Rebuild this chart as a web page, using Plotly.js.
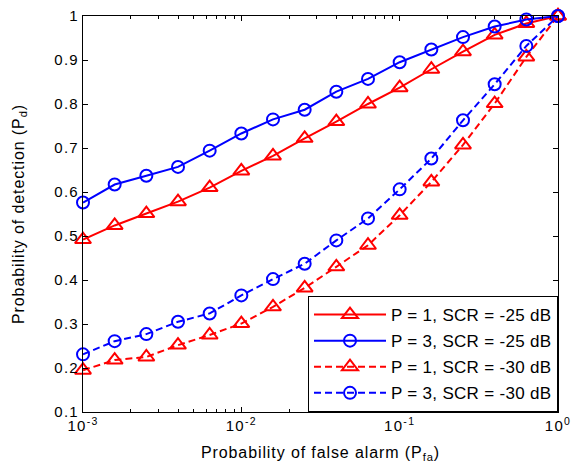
<!DOCTYPE html>
<html><head><meta charset="utf-8">
<script src="https://cdn.plot.ly/plotly-3.0.1.min.js"></script>
<style>
body{margin:0;background:#fff}#c{width:576px;height:471px}
.xtick text,.ytick text{letter-spacing:1.3px}
.xtitle,.ytitle{letter-spacing:0.9px}
.legendtext{letter-spacing:0.3px}
</style>
</head><body><div id="c"></div>
<script>
// Pfa = 10^(-3 + 0.2k), k = 0..15
const pfa = [0.001, 0.001585, 0.002512, 0.003981, 0.00631, 0.01, 0.01585, 0.02512, 0.03981, 0.0631, 0.1, 0.1585, 0.2512, 0.3981, 0.631, 1.0];
const pd_p1_25 = [0.492, 0.524, 0.551, 0.578, 0.610, 0.648, 0.682, 0.722, 0.760, 0.800, 0.837, 0.879, 0.919, 0.957, 0.983, 1.0];
const pd_p3_25 = [0.576, 0.617, 0.637, 0.657, 0.694, 0.733, 0.765, 0.787, 0.828, 0.857, 0.895, 0.924, 0.952, 0.976, 0.992, 1.0];
const pd_p1_30 = [0.195, 0.218, 0.225, 0.252, 0.275, 0.301, 0.339, 0.382, 0.430, 0.479, 0.547, 0.623, 0.707, 0.801, 0.907, 1.0];
const pd_p3_30 = [0.231, 0.261, 0.277, 0.305, 0.324, 0.365, 0.402, 0.437, 0.490, 0.540, 0.606, 0.676, 0.763, 0.845, 0.932, 1.0];
const names = ['P = 1, SCR = -25 dB', 'P = 3, SCR = -25 dB', 'P = 1, SCR = -30 dB', 'P = 3, SCR = -30 dB'];
const xTickVals = [0.001, 0.01, 0.1, 1];
const xTickText = ['10<sup>-3</sup>', '10<sup>-2</sup>', '10<sup>-1</sup>', '10<sup>0</sup>'];
const yTickVals = [0.1, 0.2, 0.3, 0.4, 0.5, 0.6, 0.7, 0.8, 0.9, 1];

const RED = '#ff0000', BLUE = '#0000ff';
function tr(y, name, color, sym, dash, msize, grp) {
  return {
    x: pfa, y: y, name: name, type: 'scatter', mode: 'lines+markers',
    legendgroup: grp, cliponaxis: false,
    line: {color: color, width: 2, dash: dash},
    marker: {symbol: sym, size: msize, color: color, line: {color: color, width: 2}}
  };
}
const data = [
  tr(pd_p1_25, names[0], RED, 'triangle-up-open', 'solid', 14, 'a'),
  tr(pd_p3_25, names[1], BLUE, 'circle-open', 'solid', 12, 'b'),
  tr(pd_p1_30, names[2], RED, 'triangle-up-open', '7px,4px', 14, 'c'),
  tr(pd_p3_30, names[3], BLUE, 'circle-open', '7px,4px', 12, 'd')
];
const F = 'Liberation Sans, Arial, sans-serif';
const layout = {
  width: 576, height: 471,
  margin: {l: 83, r: 18, t: 16, b: 59},
  paper_bgcolor: '#fff', plot_bgcolor: '#fff',
  font: {family: F, size: 15, color: '#000'},
  showlegend: true,
  legend: {
    x: 1, y: 0, xanchor: 'right', yanchor: 'bottom',
    bgcolor: '#fff', bordercolor: '#000', borderwidth: 1,
    font: {family: F, size: 17, color: '#000'},
    traceorder: 'grouped', tracegroupgap: 1, itemwidth: 72
  },
  xaxis: {
    type: 'log', range: [-3, 0],
    tickvals: xTickVals, ticktext: xTickText,
    ticks: 'inside', ticklen: 5, tickcolor: '#000',
    minor: {ticks: 'inside', ticklen: 3, tickcolor: '#000', dtick: 'D1', showgrid: false},
    showline: true, linecolor: '#000', linewidth: 1, mirror: 'ticks',
    showgrid: false, zeroline: false,
    tickfont: {family: F, size: 15},
    title: {text: 'Probability of false alarm (P<sub>fa</sub>)', font: {family: F, size: 16}, standoff: 13}
  },
  yaxis: {
    range: [0.1, 1], tickvals: yTickVals,
    ticks: 'inside', ticklen: 5, tickcolor: '#000',
    showline: true, linecolor: '#000', linewidth: 1, mirror: 'ticks',
    showgrid: false, zeroline: false,
    tickfont: {family: F, size: 15},
    title: {text: 'Probability of detection (P<sub>d</sub>)', font: {family: F, size: 16}, standoff: 25}
  }
};
Plotly.newPlot('c', data, layout, {displayModeBar: false, staticPlot: true});
</script></body></html>
